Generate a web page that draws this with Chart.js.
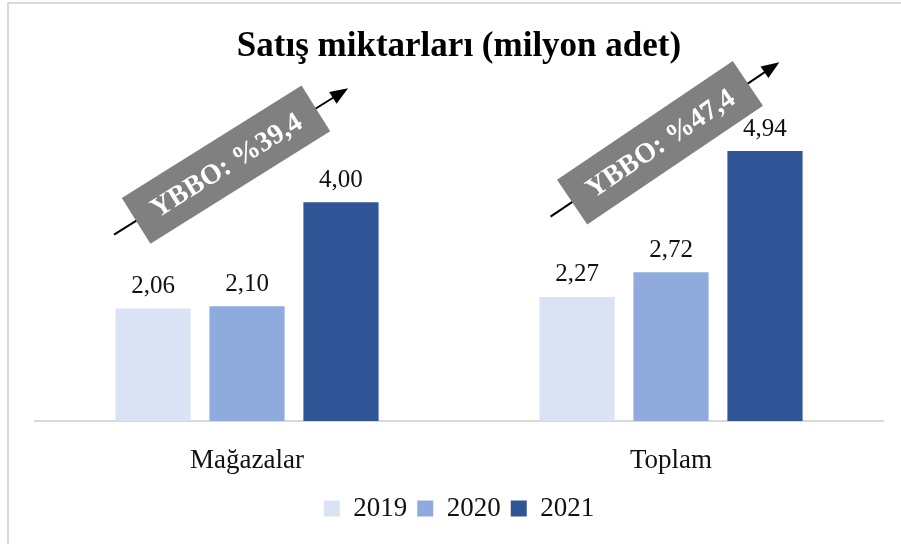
<!DOCTYPE html>
<html>
<head>
<meta charset="utf-8">
<script src="https://cdn.jsdelivr.net/npm/chart.js@4.4.1/dist/chart.umd.min.js"></script>
<style>
  body { margin: 0; background: #fff; }
  #wrap { width: 901px; height: 544px; position: relative; }
</style>
</head>
<body>
<div id="wrap"><canvas id="myChart"></canvas></div>
<script>
const categories = ['Mağazalar', 'Toplam'];
const years = ['2019', '2020', '2021'];
const values2019 = [2.06, 2.27];
const values2020 = [2.10, 2.72];
const values2021 = [4.00, 4.94];
const growthLabels = ['YBBO: %39,4', 'YBBO: %47,4'];

const colors = ['#DAE3F3', '#8FAADC', '#2F5597'];
const serif = "'Liberation Serif', 'Times New Roman', serif";

// value labels above each bar, with comma decimals
const valueLabels = {
  id: 'valueLabels',
  afterDatasetsDraw(chart) {
    const ctx = chart.ctx;
    ctx.save();
    ctx.font = '25px ' + serif;
    ctx.fillStyle = '#111';
    ctx.textAlign = 'center';
    ctx.textBaseline = 'middle';
    chart.data.datasets.forEach((ds, di) => {
      chart.getDatasetMeta(di).data.forEach((bar, i) => {
        ctx.fillText(ds.data[i].toFixed(2).replace('.', ','), bar.x, bar.y - 22);
      });
    });
    ctx.restore();
  }
};

// rotated grey YBBO boxes with an arrow behind them
const growthBoxes = {
  id: 'growthBoxes',
  afterDatasetsDraw(chart) {
    const ctx = chart.ctx;
    const xs = chart.scales.x, ys = chart.scales.y;
    const spots = [
      { dx: -21, v: 4.69, angle: 32 },
      { dx: -11, v: 5.09, angle: 34 }
    ];
    growthLabels.forEach((txt, i) => {
      const cx = xs.getPixelForValue(i) + spots[i].dx;
      const cy = ys.getPixelForValue(spots[i].v);
      ctx.save();
      ctx.translate(cx, cy);
      ctx.rotate(-spots[i].angle * Math.PI / 180);
      // arrow
      ctx.strokeStyle = '#000';
      ctx.fillStyle = '#000';
      ctx.lineWidth = 2;
      ctx.beginPath();
      ctx.moveTo(-132, 0);
      ctx.lineTo(130, 0);
      ctx.stroke();
      ctx.beginPath();
      ctx.moveTo(144, 0);
      ctx.lineTo(126, -7);
      ctx.lineTo(126, 7);
      ctx.closePath();
      ctx.fill();
      // box
      ctx.fillStyle = '#808080';
      ctx.fillRect(-106, -27, 212, 54);
      ctx.fillStyle = '#fff';
      ctx.font = 'bold 28px ' + serif;
      ctx.textAlign = 'center';
      ctx.textBaseline = 'middle';
      ctx.fillText(txt, 0, 2);
      ctx.restore();
    });
  }
};

const frame = {
  id: 'frame',
  beforeDraw(chart) {
    const ctx = chart.ctx;
    ctx.save();
    ctx.strokeStyle = '#d9d9d9';
    ctx.lineWidth = 2;
    ctx.beginPath();
    ctx.moveTo(8, 544);
    ctx.lineTo(8, 3);
    ctx.lineTo(901, 3);
    ctx.stroke();
    ctx.restore();
  }
};

new Chart(document.getElementById('myChart'), {
  type: 'bar',
  data: {
    labels: categories,
    datasets: [
      { label: years[0], data: values2019, backgroundColor: colors[0] },
      { label: years[1], data: values2020, backgroundColor: colors[1] },
      { label: years[2], data: values2021, backgroundColor: colors[2] }
    ]
  },
  options: {
    responsive: true,
    maintainAspectRatio: false,
    animation: false,
    layout: { padding: { left: 35, right: 18, top: 0, bottom: 12 } },
    datasets: {
      bar: { categoryPercentage: 0.665, barPercentage: 0.8 }
    },
    scales: {
      x: {
        grid: { display: false, drawTicks: false },
        border: { color: '#d9d9d9', width: 2 },
        ticks: { color: '#111', padding: 24, font: { family: serif, size: 27 } },
        afterFit(axis) { axis.height = 64; }
      },
      y: {
        display: false,
        min: 0,
        max: 6
      }
    },
    plugins: {
      title: {
        display: true,
        text: 'Satış miktarları (milyon adet)',
        color: '#000',
        font: { family: serif, size: 35, weight: 'bold' },
        padding: { top: 26, bottom: 25 }
      },
      legend: {
        position: 'bottom',
        labels: {
          color: '#111',
          boxWidth: 16,
          boxHeight: 16,
          padding: 10,
          font: { family: serif, size: 27 }
        }
      },
      tooltip: { enabled: false }
    }
  },
  plugins: [frame, valueLabels, growthBoxes]
});
</script>
</body>
</html>
